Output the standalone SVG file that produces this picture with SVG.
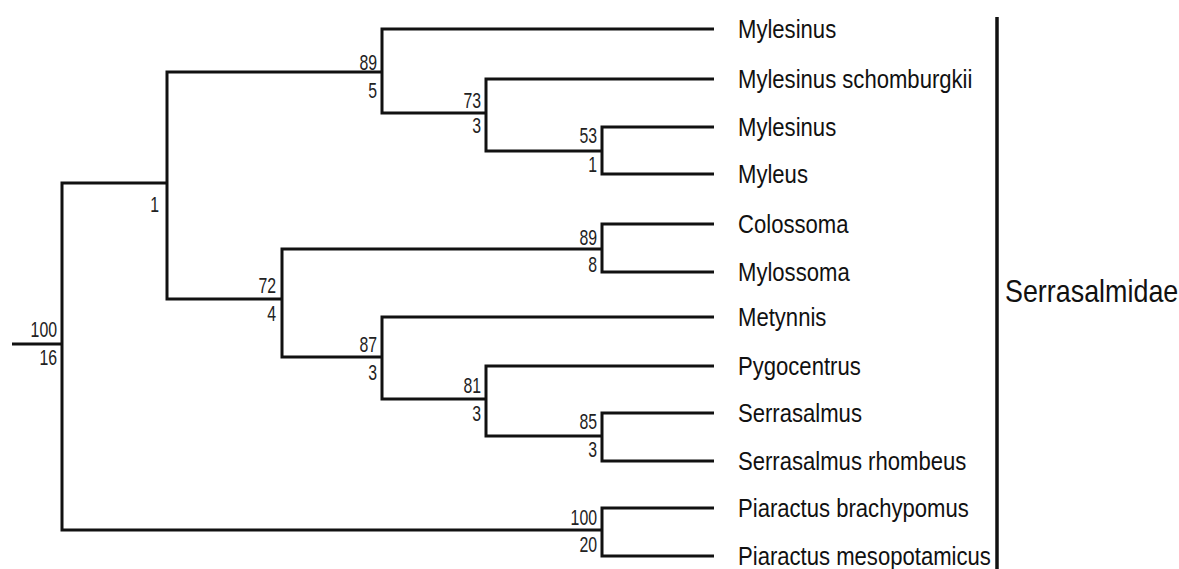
<svg xmlns="http://www.w3.org/2000/svg" width="1179" height="569" viewBox="0 0 1179 569">
<style>
.e{fill:none;stroke:#111;stroke-width:3;stroke-linejoin:miter;stroke-linecap:butt}
.lf{font-family:"Liberation Sans",Arial,sans-serif;font-size:26px;fill:#111}
.n{font-family:"Liberation Sans",Arial,sans-serif;font-size:22px;fill:#222;text-anchor:end}
.cl{font-family:"Liberation Sans",Arial,sans-serif;font-size:32px;fill:#111}
</style>
<rect width="1179" height="569" fill="#fff"/>
<g id="connectors" class="e">
<path d="M12,344 H62"/>
<path d="M62,344 V183 H167"/>
<path d="M62,344 V530 H602"/>
<path d="M167,183 V72 H382"/>
<path d="M167,183 V299 H282"/>
<path d="M382,72 V29 H714"/>
<path d="M382,72 V113 H486"/>
<path d="M486,113 V79 H714"/>
<path d="M486,113 V151 H602"/>
<path d="M602,151 V127 H714"/>
<path d="M602,151 V174 H714"/>
<path d="M282,299 V249 H602"/>
<path d="M282,299 V357 H382"/>
<path d="M602,249 V224 H714"/>
<path d="M602,249 V272 H714"/>
<path d="M382,357 V317 H714"/>
<path d="M382,357 V399 H486"/>
<path d="M486,399 V366 H714"/>
<path d="M486,399 V436 H602"/>
<path d="M602,436 V413 H714"/>
<path d="M602,436 V461 H714"/>
<path d="M602,530 V508 H714"/>
<path d="M602,530 V556 H714"/>
</g>
<g id="node-root"><text class="n" transform="translate(57,337) scale(0.72,1)">100</text><text class="n" transform="translate(57,365) scale(0.72,1)">16</text></g>
<g id="node-1"><text class="n" transform="translate(159,212) scale(0.72,1)">1</text></g>
<g id="node-89a"><text class="n" transform="translate(377,70) scale(0.72,1)">89</text><text class="n" transform="translate(377,98) scale(0.72,1)">5</text></g>
<g id="node-73"><text class="n" transform="translate(481,108) scale(0.72,1)">73</text><text class="n" transform="translate(481,133) scale(0.72,1)">3</text></g>
<g id="node-53"><text class="n" transform="translate(597,143) scale(0.72,1)">53</text><text class="n" transform="translate(597,172) scale(0.72,1)">1</text></g>
<g id="node-72"><text class="n" transform="translate(276,293) scale(0.72,1)">72</text><text class="n" transform="translate(276,321) scale(0.72,1)">4</text></g>
<g id="node-89b"><text class="n" transform="translate(597,245) scale(0.72,1)">89</text><text class="n" transform="translate(597,272) scale(0.72,1)">8</text></g>
<g id="node-87"><text class="n" transform="translate(377,352) scale(0.72,1)">87</text><text class="n" transform="translate(377,380) scale(0.72,1)">3</text></g>
<g id="node-81"><text class="n" transform="translate(481,393) scale(0.72,1)">81</text><text class="n" transform="translate(481,421) scale(0.72,1)">3</text></g>
<g id="node-85"><text class="n" transform="translate(597,429) scale(0.72,1)">85</text><text class="n" transform="translate(597,457) scale(0.72,1)">3</text></g>
<g id="node-100"><text class="n" transform="translate(597,525) scale(0.72,1)">100</text><text class="n" transform="translate(597,552) scale(0.72,1)">20</text></g>
<g id="leaf-mylesinus-1"><text class="lf" transform="translate(738,38) scale(0.85,1)">Mylesinus</text></g>
<g id="leaf-mylesinus-schomburgkii"><text class="lf" transform="translate(738,88) scale(0.85,1)">Mylesinus schomburgkii</text></g>
<g id="leaf-mylesinus-2"><text class="lf" transform="translate(738,136) scale(0.85,1)">Mylesinus</text></g>
<g id="leaf-myleus"><text class="lf" transform="translate(738,183) scale(0.85,1)">Myleus</text></g>
<g id="leaf-colossoma"><text class="lf" transform="translate(738,233) scale(0.85,1)">Colossoma</text></g>
<g id="leaf-mylossoma"><text class="lf" transform="translate(738,281) scale(0.85,1)">Mylossoma</text></g>
<g id="leaf-metynnis"><text class="lf" transform="translate(738,326) scale(0.85,1)">Metynnis</text></g>
<g id="leaf-pygocentrus"><text class="lf" transform="translate(738,375) scale(0.85,1)">Pygocentrus</text></g>
<g id="leaf-serrasalmus"><text class="lf" transform="translate(738,422) scale(0.85,1)">Serrasalmus</text></g>
<g id="leaf-serrasalmus-rhombeus"><text class="lf" transform="translate(738,470) scale(0.85,1)">Serrasalmus rhombeus</text></g>
<g id="leaf-piaractus-brachypomus"><text class="lf" transform="translate(738,517) scale(0.85,1)">Piaractus brachypomus</text></g>
<g id="leaf-piaractus-mesopotamicus"><text class="lf" transform="translate(738,565) scale(0.85,1)">Piaractus mesopotamicus</text></g>
<g id="clade-serrasalmidae">
<line x1="997" y1="17" x2="997" y2="569" stroke="#111" stroke-width="3.5"/>
<text class="cl" transform="translate(1005,302) scale(0.84,1)">Serrasalmidae</text>
</g>
</svg>
